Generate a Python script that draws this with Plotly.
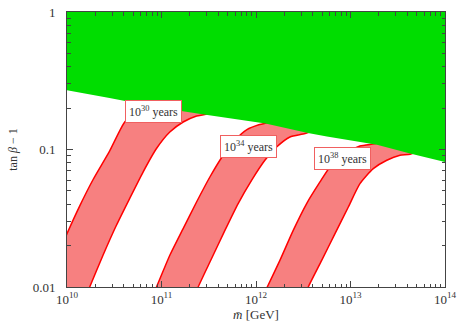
import numpy as np
import plotly.graph_objects as go

# ---- data (log10 values) ----
# excluded (green) region lower boundary
green_logm = [9.9, 10.0, 10.45, 11.0, 11.45, 12.1, 12.55, 12.75, 13.28, 13.63, 14.0, 14.1]
green_logy = [-0.555, -0.569, -0.625, -0.698, -0.745, -0.81, -0.88, -0.905, -0.965, -1.03, -1.09, -1.10]

# proton lifetime bands: left (upper) edge and right (lower) edge
b30_left_m = [9.8, 9.89, 10.0, 10.135, 10.275, 10.452, 10.611, 10.75, 10.9, 11.05]
b30_left_y = [-2.1, -1.788, -1.612, -1.41, -1.22, -1.01, -0.80, -0.72, -0.67, -0.64]
b30_right_m = [10.18, 10.24, 10.381, 10.523, 10.664, 10.805, 10.947, 11.088, 11.229, 11.371, 11.477, 11.55]
b30_right_y = [-2.1, -2.0, -1.769, -1.551, -1.355, -1.164, -0.993, -0.873, -0.800, -0.756, -0.742, -0.70]

b34_left_m = [10.88, 10.947, 11.088, 11.229, 11.371, 11.512, 11.653, 11.78, 11.904, 12.03, 12.147, 12.25]
b34_left_y = [-2.1, -2.0, -1.769, -1.575, -1.382, -1.2, -1.042, -0.93, -0.855, -0.82, -0.80, -0.78]
b34_right_m = [11.33, 11.388, 11.530, 11.671, 11.811, 11.953, 12.094, 12.218, 12.359, 12.518, 12.60]
b34_right_y = [-2.1, -2.0, -1.793, -1.588, -1.393, -1.224, -1.078, -0.982, -0.909, -0.884, -0.86]

b38_left_m = [12.05, 12.119, 12.253, 12.394, 12.536, 12.677, 12.783, 12.942, 13.1, 13.278, 13.38]
b38_left_y = [-2.1, -2.0, -1.806, -1.588, -1.393, -1.236, -1.127, -1.03, -0.975, -0.955, -0.93]
b38_right_m = [12.50, 12.553, 12.695, 12.836, 12.977, 13.1, 13.241, 13.384, 13.524, 13.63, 13.72]
b38_right_y = [-2.1, -2.0, -1.806, -1.612, -1.418, -1.248, -1.139, -1.078, -1.042, -1.035, -1.0]

band_labels = ["10<sup>30</sup> years", "10<sup>34</sup> years", "10<sup>38</sup> years"]
label_logm = [10.915, 11.917, 12.912]
label_logy = [-0.724, -0.979, -1.066]

x_tickvals = [1e10, 1e11, 1e12, 1e13, 1e14]
x_ticktext = ["10<sup>10</sup>", "10<sup>11</sup>", "10<sup>12</sup>", "10<sup>13</sup>", "10<sup>14</sup>"]
y_tickvals = [0.01, 0.1, 1]
y_ticktext = ["0.01", "0.1", "1"]

SERIF = "Liberation Serif"
fig = go.Figure()

bands = [
    (b30_left_m, b30_left_y, b30_right_m, b30_right_y),
    (b34_left_m, b34_left_y, b34_right_m, b34_right_y),
    (b38_left_m, b38_left_y, b38_right_m, b38_right_y),
]
for lm, ly, rm, ry in bands:
    xs = 10 ** np.array(lm + rm[::-1])
    ys = 10 ** np.array(ly + ry[::-1])
    fig.add_trace(go.Scatter(x=xs, y=ys, mode="lines", fill="toself",
                             fillcolor="#f78080",
                             line=dict(color="#ff0000", width=1.5, shape="spline", smoothing=0.6),
                             hoverinfo="skip", showlegend=False))

gx = 10 ** np.array(green_logm + [green_logm[-1], green_logm[0]])
gy = 10 ** np.array(green_logy + [0.1, 0.1])
fig.add_trace(go.Scatter(x=gx, y=gy, mode="lines", fill="toself",
                         fillcolor="#00dd00", line=dict(width=0, color="#00dd00"),
                         hoverinfo="skip", showlegend=False))

for txt, lx, ly in zip(band_labels, label_logm, label_logy):
    fig.add_annotation(x=lx, y=ly, xref="x", yref="y", text=txt, showarrow=False,
                       font=dict(family=SERIF, size=12, color="#333"),
                       bgcolor="white", bordercolor="#f06060", borderwidth=1, borderpad=3)

x_minor = [k * 10 ** n for n in range(10, 14) for k in range(2, 10)]
y_minor = [k * 10 ** n for n in (-2, -1) for k in range(2, 10)]

fig.update_xaxes(type="log", range=[10, 14], tickvals=x_tickvals, ticktext=x_ticktext,
                 automargin=False,
                 ticks="inside", ticklen=6, tickcolor="#444", mirror="ticks",
                 showline=True, linecolor="#444", linewidth=1, showgrid=False, zeroline=False,
                 tickfont=dict(family=SERIF, size=13, color="#333"),
                 minor=dict(tickvals=x_minor, ticks="inside", ticklen=3.5, tickcolor="#444", showgrid=False),
                 title=dict(text="<i>m̄</i> [GeV]", font=dict(family=SERIF, size=13, color="#333"), standoff=4))
fig.update_yaxes(type="log", range=[-2, 0], tickvals=y_tickvals, ticktext=y_ticktext,
                 automargin=False,
                 ticks="inside", ticklen=6, tickcolor="#444", mirror="ticks",
                 showline=True, linecolor="#444", linewidth=1, showgrid=False, zeroline=False,
                 tickfont=dict(family=SERIF, size=13, color="#333"), ticklabelstandoff=8,
                 minor=dict(tickvals=y_minor, ticks="inside", ticklen=3.5, tickcolor="#444", showgrid=False),
                 title=dict(text="tan <i>β</i> − 1", font=dict(family=SERIF, size=12, color="#333"), standoff=12))

fig.update_layout(width=461, height=326, margin=dict(l=67, r=16, t=12, b=39),
                  plot_bgcolor="white", paper_bgcolor="white", showlegend=False)

fig.write_html("out.html", config={"displayModeBar": False},
               post_script="document.body.style.margin='0';document.body.style.overflow='hidden';")
